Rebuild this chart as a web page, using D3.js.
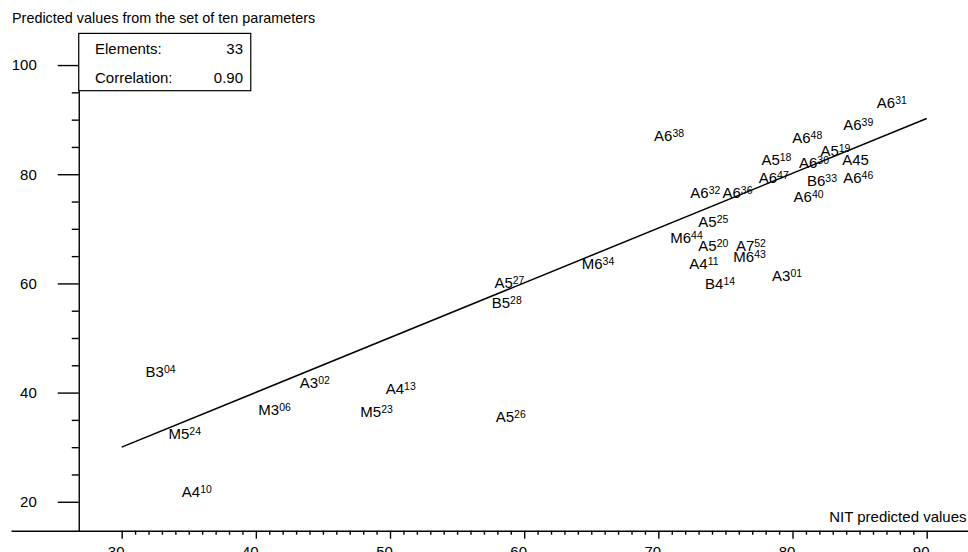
<!DOCTYPE html>
<html>
<head>
<meta charset="utf-8">
<script src="https://cdn.jsdelivr.net/npm/d3@7"></script>
<style>
  body { margin: 0; background: #fff; }
  svg { display: block; font-family: "Liberation Sans", Arial, sans-serif; }
</style>
</head>
<body>
<svg id="chart" width="968" height="552"></svg>
<script>
// label = code + superscript, placed at (nit, predicted)
var labelMain = ["A6","A6","A6","A6","A5","A5","A6","A45","A6","B6","A6","A6","A6","A6",
                 "A5","M6","A5","A7","M6","A4","A3","B4","M6","A5","B5",
                 "B3","A3","A4","M3","M5","A5","M5","A4"];
var labelSup  = ["31","39","38","48","19","18","30","","47","33","46","32","36","40",
                 "25","44","20","52","43","11","01","14","34","27","28",
                 "04","02","13","06","23","26","24","10"];
var nitValues = [87.4,84.9,70.8,81.1,83.2,78.8,81.6,84.7,78.6,82.2,84.9,73.5,75.9,81.2,
                 74.1,72.1,74.1,76.9,76.8,73.4,79.6,74.6,65.5,58.9,58.7,
                 32.9,44.4,50.8,41.4,49.0,59.0,34.7,35.6];
var predValues = [93.1,89.1,87.0,86.7,84.4,82.7,82.2,82.6,79.4,78.8,79.4,76.7,76.7,75.9,
                  71.4,68.4,66.9,66.9,64.9,63.6,61.4,59.9,63.6,60.1,56.4,
                  43.9,41.8,40.8,36.9,36.5,35.6,32.4,21.9];

var fitX = [30, 90];
var fitY = [30, 90.2];

var xMajor = [30, 40, 50, 60, 70, 80, 90];
var yMajor = [20, 40, 60, 80, 100];

var statNames = ["Elements:", "Correlation:"];
var statValues = ["33", "0.90"];

var svg = d3.select('#chart');

var x = d3.scaleLinear().domain([21.75, 93.08]).range([11, 968]);
var y = d3.scaleLinear().domain([14.7, 105.8]).range([530.7, 33.4]);

var xMinor = d3.range(30, 91, 1).filter(function(v) { return v % 10 !== 0; });
var yMinor = d3.range(25, 100, 5).filter(function(v) { return v % 20 !== 0; });

var yAxisAt = 26.8; // x value where the vertical axis sits

// axes
var xAxis = svg.append('g')
  .attr('transform', 'translate(0,' + y(14.7) + ')')
  .call(d3.axisBottom(x).tickValues(xMajor).tickSize(8).tickSizeOuter(0).tickPadding(7.5)
    .tickFormat(d3.format('d')));
xAxis.selectAll('text').attr('dx', -6).style('font-size', '15px').attr('fill', '#000');

svg.append('g')
  .attr('transform', 'translate(0,' + y(14.7) + ')')
  .call(d3.axisBottom(x).tickValues(xMinor).tickSize(4).tickFormat(''))
  .select('.domain').remove();

var yAxis = svg.append('g')
  .attr('transform', 'translate(' + x(yAxisAt) + ',0)')
  .call(d3.axisLeft(y).tickValues(yMajor).tickSize(21).tickSizeOuter(0).tickPadding(21));
yAxis.selectAll('text').style('font-size', '15px').attr('fill', '#000');

svg.append('g')
  .attr('transform', 'translate(' + x(yAxisAt) + ',0)')
  .call(d3.axisLeft(y).tickValues(yMinor).tickSize(7).tickFormat(''))
  .select('.domain').remove();

svg.selectAll('.domain, .tick line').attr('stroke', '#000').attr('stroke-width', 1.4);

// regression line
svg.append('line')
  .attr('x1', x(fitX[0])).attr('y1', y(fitY[0]))
  .attr('x2', x(fitX[1])).attr('y2', y(fitY[1]))
  .attr('stroke', '#000')
  .attr('stroke-width', 1.5);

// point labels
var pts = svg.append('g').selectAll('text')
  .data(labelMain)
  .enter().append('text')
  .attr('x', function(d, i) { return x(nitValues[i]); })
  .attr('y', function(d, i) { return y(predValues[i]) + 5.4; })
  .attr('text-anchor', 'middle')
  .style('font-size', '15px');
pts.append('tspan').text(function(d) { return d; });
pts.append('tspan')
  .attr('dy', -4)
  .style('font-size', '10.5px')
  .text(function(d, i) { return labelSup[i]; });

// stats box
svg.append('rect')
  .attr('x', x(yAxisAt)).attr('y', 33.4)
  .attr('width', 172).attr('height', 57.3)
  .attr('fill', '#fff').attr('stroke', '#000').attr('stroke-width', 1.2);

statNames.forEach(function(s, i) {
  svg.append('text').attr('x', 95).attr('y', 54 + i * 29)
    .style('font-size', '15px').text(s);
  svg.append('text').attr('x', 243).attr('y', 54 + i * 29)
    .attr('text-anchor', 'end').style('font-size', '15px').text(statValues[i]);
});

// titles
svg.append('text').attr('x', 12).attr('y', 22.5)
  .style('font-size', '14.4px')
  .text('Predicted values from the set of ten parameters');

svg.append('text').attr('x', 966.5).attr('y', 522)
  .attr('text-anchor', 'end')
  .style('font-size', '15px')
  .text('NIT predicted values');
</script>
</body>
</html>
